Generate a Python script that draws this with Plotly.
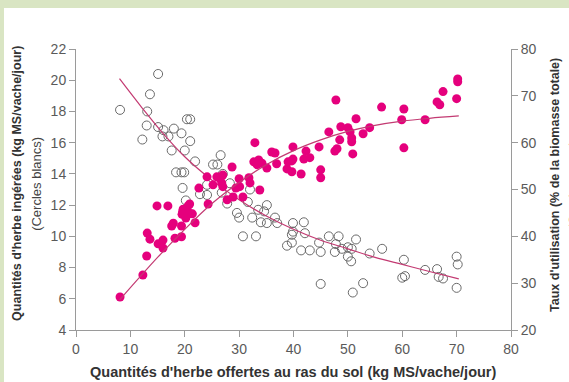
import plotly.graph_objects as go

# Herbage offered at ground level (kg DM/cow/day) and intake (kg DM/cow/day) - open circles
offer_open = [8.1, 15.1, 13.6, 13.1, 13.0, 15.1, 12.2, 16.1, 15.9, 17.0, 18.0, 19.4, 20.4, 21.0,
              21.0, 20.0, 17.6, 21.9, 18.4, 19.4, 19.9, 25.2, 26.0, 26.6, 19.6, 27.0, 28.3, 20.2,
              24.1, 24.1, 22.8, 26.8, 27.8, 32.0, 31.6, 29.6, 30.0, 32.4, 33.5, 34.6, 35.1, 34.0,
              35.1, 36.6, 37.0, 30.7, 33.1, 39.9, 41.9, 39.9, 42.1, 39.7, 38.8, 39.7, 41.4, 43.0,
              44.7, 45.0, 46.5, 48.3, 47.8, 47.6, 48.9, 50.0, 50.7, 50.0, 50.6, 51.5, 54.0, 56.3,
              45.0, 50.9, 52.8, 60.0, 60.5, 60.3, 64.2, 66.4, 66.7, 67.5, 70.0, 70.2, 70.0]
intake_open = [18.1, 20.4, 19.1, 18.0, 17.1, 17.0, 16.2, 16.8, 16.4, 16.4, 16.9, 16.6, 17.5, 17.5,
               16.1, 15.5, 15.5, 14.8, 14.1, 14.1, 14.1, 14.6, 14.6, 15.2, 13.1, 14.0, 13.4, 12.3,
               13.3, 12.65, 12.7, 12.8, 12.1, 13.0, 12.2, 11.5, 11.2, 11.2, 11.7, 11.6, 12.0, 10.9,
               10.85, 11.2, 10.85, 10.0, 10.0, 10.85, 10.9, 10.3, 10.2, 10.1, 9.4, 9.6, 9.1, 9.1,
               9.6, 9.0, 10.0, 10.0, 9.5, 9.0, 9.2, 9.3, 9.2, 8.7, 8.4, 9.8, 8.9, 9.2,
               6.95, 6.4, 7.0, 7.35, 7.45, 8.5, 7.85, 7.9, 7.4, 7.3, 8.7, 8.2, 6.7]

# Herbage offered and utilisation rate (% of total biomass) - filled circles
offer_full = [8.1, 12.3, 13.0, 13.1, 13.6, 14.9, 16.9, 15.1, 16.0, 16.0, 17.6, 17.9, 18.2, 19.4,
              19.4, 19.6, 19.7, 20.4, 20.6, 21.0, 19.5, 20.2, 21.4, 20.9, 21.9, 24.3, 32.9, 28.7,
              27.0, 25.9, 26.5, 24.1, 22.6, 25.2, 26.8, 27.0, 30.0, 30.1, 29.4, 31.8, 32.0, 33.8,
              30.7, 27.8, 32.7, 33.3, 34.2, 33.6, 35.1, 36.9, 36.0, 36.6, 38.8, 39.0, 47.8, 56.2,
              51.5, 48.7, 50.0, 50.4, 46.5, 54.0, 52.8, 48.5, 50.7, 50.7, 44.7, 39.9, 42.3, 47.6,
              48.0, 50.9, 41.9, 43.0, 39.9, 39.7, 39.7, 41.4, 45.0, 45.0, 70.2, 70.2, 67.5, 66.4,
              66.9, 70.0, 60.3, 59.9, 64.2, 60.3, 28.9]
util_full = [27.05, 31.75, 35.8, 40.7, 39.4, 46.5, 46.5, 38.4, 39.2, 37.5, 42.2, 42.8, 39.6, 39.9,
             42.2, 45.2, 45.8, 45.3, 46.5, 44.9, 44.7, 43.9, 44.8, 46.9, 42.9, 46.9, 60.0, 54.8,
             53.1, 52.7, 52.3, 52.7, 50.3, 51.0, 51.4, 50.6, 52.3, 50.6, 50.3, 52.5, 51.4, 49.9,
             48.4, 47.8, 55.9, 55.3, 55.6, 56.3, 54.6, 55.5, 58.0, 57.8, 54.4, 55.9, 69.1, 67.6,
             65.1, 63.4, 63.2, 62.3, 62.3, 63.2, 61.9, 60.6, 61.0, 60.2, 59.1, 59.1, 58.2, 58.2,
             58.7, 57.6, 56.5, 56.8, 56.5, 56.1, 53.8, 53.3, 54.2, 52.5, 73.6, 73.0, 70.9, 68.7,
             68.1, 69.4, 67.2, 64.9, 64.9, 58.9, 48.4]

# Fitted response curves
fit_open_x = [8, 12, 16, 20, 25, 30, 35, 40, 45, 50, 55, 60, 65, 70.4]
fit_open_y = [20.1, 18.3, 16.6, 15.1, 13.6, 12.35, 11.3, 10.45, 9.75, 9.2, 8.65, 8.2, 7.75, 7.27]
fit_full_x = [8, 15, 20, 25, 30, 35, 40, 45, 50, 55, 60, 65, 70.4]
fit_full_y = [26.4, 35.5, 41.5, 47, 51.5, 55.3, 58.3, 60.6, 62.4, 63.7, 64.6, 65.2, 65.7]

x_ticks = [0, 10, 20, 30, 40, 50, 60, 70, 80]
y_ticks = [4, 6, 8, 10, 12, 14, 16, 18, 20, 22]
y2_ticks = [20, 30, 40, 50, 60, 70, 80]

MAGENTA = "#e5007d"
CURVE = "#c33a72"
AXIS = "#9a9a9a"
FONT = "Arial, Liberation Sans, sans-serif"

fig = go.Figure()

fig.add_trace(go.Scatter(
    x=offer_full, y=util_full, mode="markers", yaxis="y2",
    marker=dict(size=9, color=MAGENTA, line=dict(width=0)),
    showlegend=False, cliponaxis=False))
fig.add_trace(go.Scatter(
    x=offer_open, y=intake_open, mode="markers",
    marker=dict(size=9, color="rgba(255,255,255,0)", line=dict(width=1, color="#6a6a6a")),
    showlegend=False, cliponaxis=False))
fig.add_trace(go.Scatter(
    x=fit_open_x, y=fit_open_y, mode="lines", line=dict(color=CURVE, width=1.2, shape="spline"),
    showlegend=False))
fig.add_trace(go.Scatter(
    x=fit_full_x, y=fit_full_y, mode="lines", yaxis="y2",
    line=dict(color=CURVE, width=1.2, shape="spline"), showlegend=False))

axis_common = dict(showgrid=False, zeroline=False, showline=True, linecolor=AXIS, linewidth=1,
                   ticks="outside", ticklen=6, tickcolor=AXIS, tickwidth=1,
                   tickfont=dict(family=FONT, size=14, color="#5a5a5a"))

fig.update_layout(
    width=569, height=382,
    margin=dict(l=76, r=58, t=49, b=52),
    paper_bgcolor="#d9e5c3", plot_bgcolor="white",
    font=dict(family=FONT),
    xaxis=dict(range=[0, 80], tickvals=x_ticks, **axis_common),
    yaxis=dict(range=[4, 22], tickvals=y_ticks, **axis_common),
    yaxis2=dict(range=[20, 80], tickvals=y2_ticks, overlaying="y", side="right", **axis_common),
    shapes=[dict(type="rect", xref="paper", yref="paper", layer="below",
                 x0=-0.1655, x1=1.3, y0=-0.4, y1=1.146,
                 fillcolor="white", line=dict(width=0))],
    annotations=[
        dict(text="<b>Quantités d'herbe offertes au ras du sol (kg MS/vache/jour)</b>",
             xref="paper", yref="paper", x=0.498, y=-0.149, showarrow=False,
             xanchor="center", yanchor="middle", font=dict(size=14.5, color="#333333")),
        dict(text="<b>Quantités d'herbe ingérées (kg MS/vache/jour)</b>",
             xref="paper", yref="paper", x=-0.1356, y=0.52, textangle=-90, showarrow=False,
             xanchor="center", yanchor="middle", font=dict(size=12.5, color="#333333")),
        dict(text="(Cercles blancs)",
             xref="paper", yref="paper", x=-0.0897, y=0.52, textangle=-90, showarrow=False,
             xanchor="center", yanchor="middle", font=dict(size=13, color="#444444")),
        dict(text="<b>Taux d'utilisation (% de la biomasse totale)</b>",
             xref="paper", yref="paper", x=1.101, y=0.516, textangle=-90, showarrow=False,
             xanchor="center", yanchor="middle", font=dict(size=12.5, color="#333333")),
        dict(text="(Cercles roses)",
             xref="paper", yref="paper", x=1.1425, y=0.516, textangle=-90, showarrow=False,
             xanchor="center", yanchor="middle", font=dict(size=13, color="#444444")),
    ],
)

fig.write_html("out.html")
